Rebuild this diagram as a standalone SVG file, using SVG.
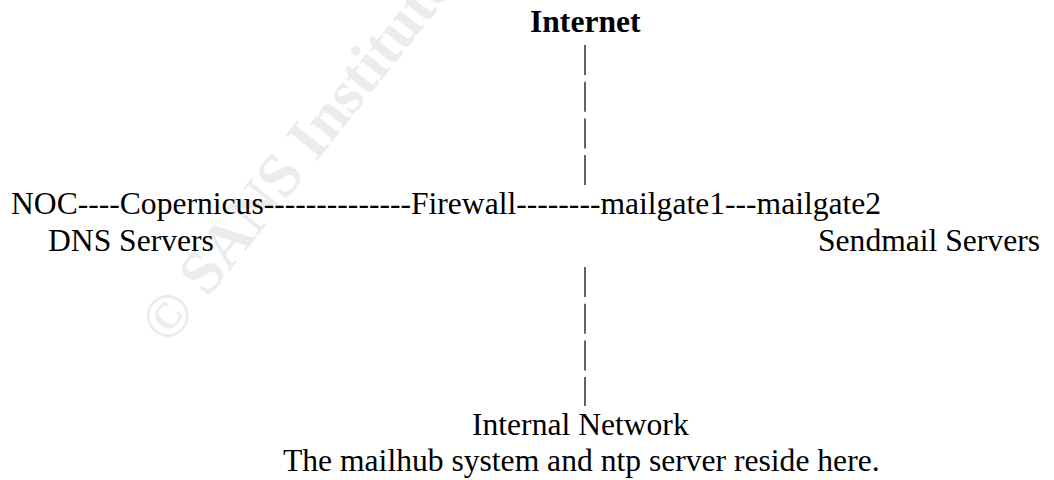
<svg xmlns="http://www.w3.org/2000/svg" width="1054" height="480" viewBox="0 0 1054 480">
  <style>
    .t { font-family: "Liberation Serif", "Times New Roman", serif; font-size: 31.6px; fill: #000; }
    .b { font-weight: bold; }
    .wm { font-family: "Liberation Serif", "Times New Roman", serif; font-size: 62px; font-weight: bold; fill: #ececec; }
    .bar { stroke: #111; stroke-width: 1.3; fill: none; stroke-dasharray: 30 6.7; }
  </style>
  <rect width="1054" height="480" fill="#fff"/>
  <g id="watermark">
    <text class="wm" x="169" y="347" transform="rotate(-51.5 169 347)">© SANS Institute</text>
  </g>
  <g id="connectors">
    <line class="bar" x1="585" y1="45" x2="585" y2="186"/>
    <line class="bar" x1="585" y1="267" x2="585" y2="406"/>
  </g>
  <g id="internet">
    <text class="t b" x="530" y="32">Internet</text>
  </g>
  <g id="main-line">
    <text class="t" x="11" y="214">NOC----Copernicus--------------Firewall--------mailgate1---mailgate2</text>
  </g>
  <g id="dns">
    <text class="t" x="48" y="251">DNS Servers</text>
  </g>
  <g id="sendmail">
    <text class="t" x="1040" y="251" text-anchor="end">Sendmail Servers</text>
  </g>
  <g id="internal">
    <text class="t" x="472" y="435">Internal Network</text>
    <text class="t" x="283" y="471">The mailhub system and ntp server reside here.</text>
  </g>
</svg>
